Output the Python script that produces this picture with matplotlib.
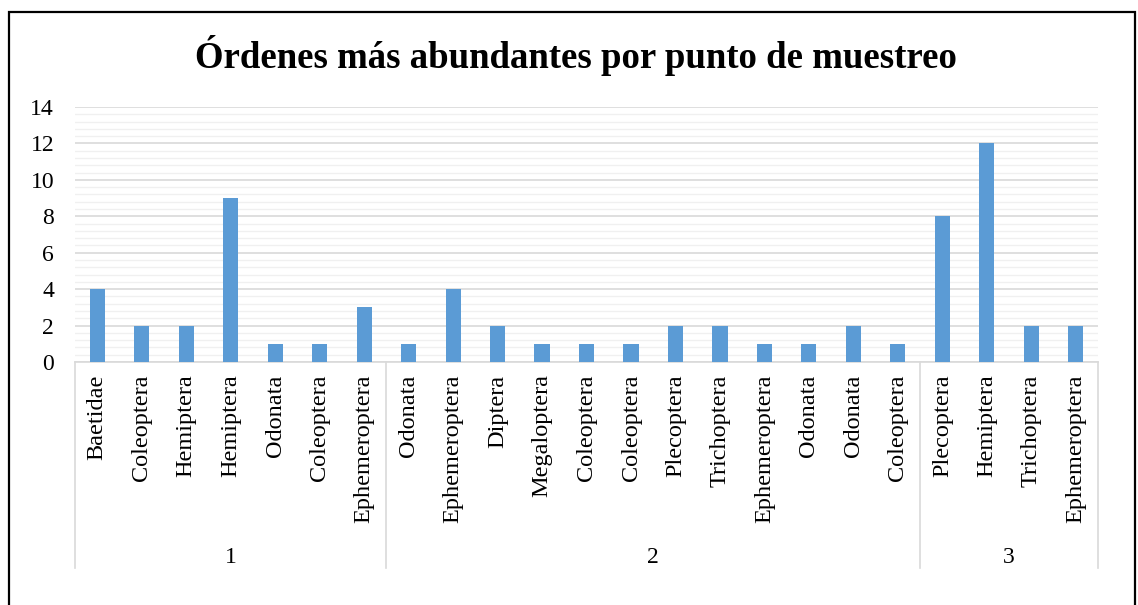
import matplotlib.pyplot as plt
from matplotlib.patches import Rectangle
import matplotlib.transforms as mtransforms

orders = ["Baetidae", "Coleoptera", "Hemiptera", "Hemiptera", "Odonata", "Coleoptera", "Ephemeroptera",
          "Odonata", "Ephemeroptera", "Diptera", "Megaloptera", "Coleoptera", "Coleoptera", "Plecoptera",
          "Trichoptera", "Ephemeroptera", "Odonata", "Odonata", "Coleoptera",
          "Plecoptera", "Hemiptera", "Trichoptera", "Ephemeroptera"]
counts = [4, 2, 2, 9, 1, 1, 3,
          1, 4, 2, 1, 1, 1, 2, 2, 1, 1, 2, 1,
          8, 12, 2, 2]
points = ["1", "2", "3"]
group_sizes = [7, 12, 4]

plt.rcParams["font.family"] = ["Liberation Serif", "DejaVu Serif"]

fig = plt.figure(figsize=(11.38, 6.05), dpi=100)
# chart border (bottom edge lies outside the image)
fig.patches.append(Rectangle((0.0075, -0.05), 0.99, 1.03, transform=fig.transFigure,
                             fill=False, edgecolor="black", linewidth=1.6))

ax = fig.add_axes([0.0659, 0.4017, 0.8990, 0.4214])
x = list(range(len(counts)))
ax.bar(x, counts, width=0.34, color="#5B9BD5", zorder=3)

ax.set_xlim(-0.5, len(counts) - 0.5)
ax.set_ylim(0, 14)
ax.set_yticks(range(0, 15, 2))
ax.set_yticks([i * 0.4 for i in range(36)], minor=True)
ax.grid(axis="y", which="major", color="#D9D9D9", linewidth=1.2, zorder=1)
ax.grid(axis="y", which="minor", color="#F0F0F0", linewidth=1.0, zorder=0)
ax.tick_params(axis="y", which="both", length=0, labelsize=17, pad=15)
ax.tick_params(axis="x", length=0, pad=9)
ax.set_xticks(x)
ax.set_xticklabels(orders, rotation=90, va="top", fontsize=17.5)
for s in ["top", "right", "left"]:
    ax.spines[s].set_visible(False)
ax.spines["bottom"].set_color("#D9D9D9")
ax.spines["bottom"].set_linewidth(1.2)

trans = mtransforms.blended_transform_factory(ax.transData, ax.transAxes)
edges = [-0.5]
for n in group_sizes:
    edges.append(edges[-1] + n)
for e in edges:
    ax.plot([e, e], [0, -0.808], transform=trans, color="#D9D9D9", linewidth=1.2, clip_on=False)
for i, p in enumerate(points):
    ax.text((edges[i] + edges[i + 1]) / 2, -0.765, p, transform=trans,
            ha="center", va="center", fontsize=17)

fig.text(0.506, 0.908, "Órdenes más abundantes por punto de muestreo", ha="center", va="center",
         fontsize=26.5, fontweight="bold")

fig.savefig("out.png", dpi=100)
